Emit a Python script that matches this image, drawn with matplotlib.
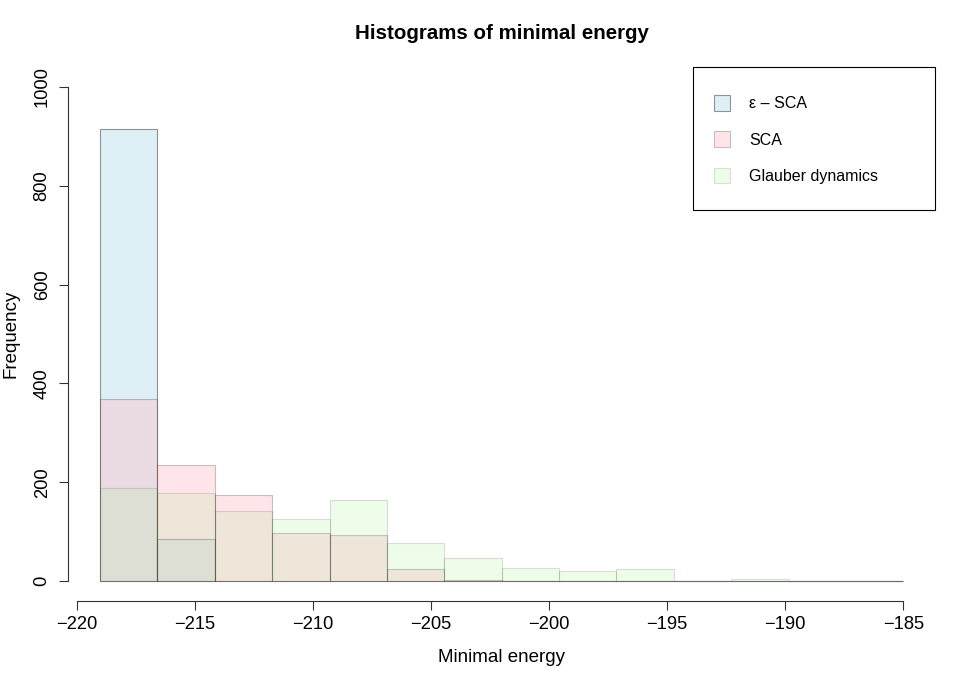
import matplotlib
matplotlib.use('Agg')
import matplotlib.pyplot as plt
import numpy as np
from matplotlib.patches import Rectangle

# bin breaks and counts
breaks = np.linspace(-219, -185, 15)
eps_sca = [915, 85, 0, 0, 0, 0, 0, 0, 0, 0, 0, 0, 0, 0]
sca = [369, 236, 175, 97, 94, 25, 3, 1, 0, 0, 0, 0, 0, 0]
glauber = [189, 178, 143, 126, 164, 78, 47, 26, 20, 24, 0, 4, 0, 1]
labels = ['\u03b5 \u2013 SCA', 'SCA', 'Glauber dynamics']

plt.rcParams['font.family'] = ['Liberation Sans', 'DejaVu Sans']

fig = plt.figure(figsize=(9.7, 6.86), dpi=100)
ax = fig.add_axes([68 / 970, 1 - 601.1 / 686, 867.4 / 970, 534.2 / 686])

widths = np.diff(breaks)
series = [
    (eps_sca, (173/255, 216/255, 230/255, 0.4), (0, 0, 0, 0.4)),
    (sca, (1.0, 192/255, 203/255, 0.4), (0, 0, 0, 0.22)),
    (glauber, (150/255, 238/255, 130/255, 0.16), (0, 0, 0, 0.12)),
]
handles = []
for counts, fc, ec in series:
    b = ax.bar(breaks[:-1], counts, width=widths, align='edge',
               color=fc, edgecolor=ec, linewidth=0.8)
    handles.append(b)

ax.set_xlim(-220.36, -183.64)
ax.set_ylim(-40, 1040)
ax.set_xticks(np.arange(-220, -184, 5))
ax.set_yticks(np.arange(0, 1001, 200))
for s in ['top', 'right']:
    ax.spines[s].set_visible(False)
ax.spines['left'].set_bounds(0, 1000)
ax.spines['bottom'].set_bounds(-220, -185)
for s in ['left', 'bottom']:
    ax.spines[s].set_linewidth(0.8)
    ax.spines[s].set_color('#333333')
ax.tick_params(axis='both', length=6.5, width=0.8, color='#333333', labelsize=13.2)
ax.tick_params(axis='x', pad=4.5)
ax.tick_params(axis='y', pad=6)
for t in ax.get_yticklabels():
    t.set_rotation(90)
    t.set_va('center')

ax.set_title('Histograms of minimal energy', fontsize=14.8, fontweight='bold', pad=20)
ax.set_xlabel('Minimal energy', fontsize=13.5, labelpad=11)
ax.set_ylabel('Frequency', fontsize=13.5, labelpad=10)

# legend box
frame = Rectangle((1 - 0.2798, 1 - 0.2684), 0.2798, 0.2684, transform=ax.transAxes,
                  facecolor='white', edgecolor='black', linewidth=0.8,
                  clip_on=False, zorder=5)
ax.add_patch(frame)
leg = fig.legend(handles, labels, loc='upper left',
                 bbox_to_anchor=(714 / 970, 1 - 95 / 686),
                 frameon=False, fontsize=11.5, borderpad=0, borderaxespad=0,
                 handlelength=1.0, handleheight=1.15, handletextpad=1.2,
                 labelspacing=1.25)
leg.set_zorder(6)

fig.savefig('out.png', dpi=100)
